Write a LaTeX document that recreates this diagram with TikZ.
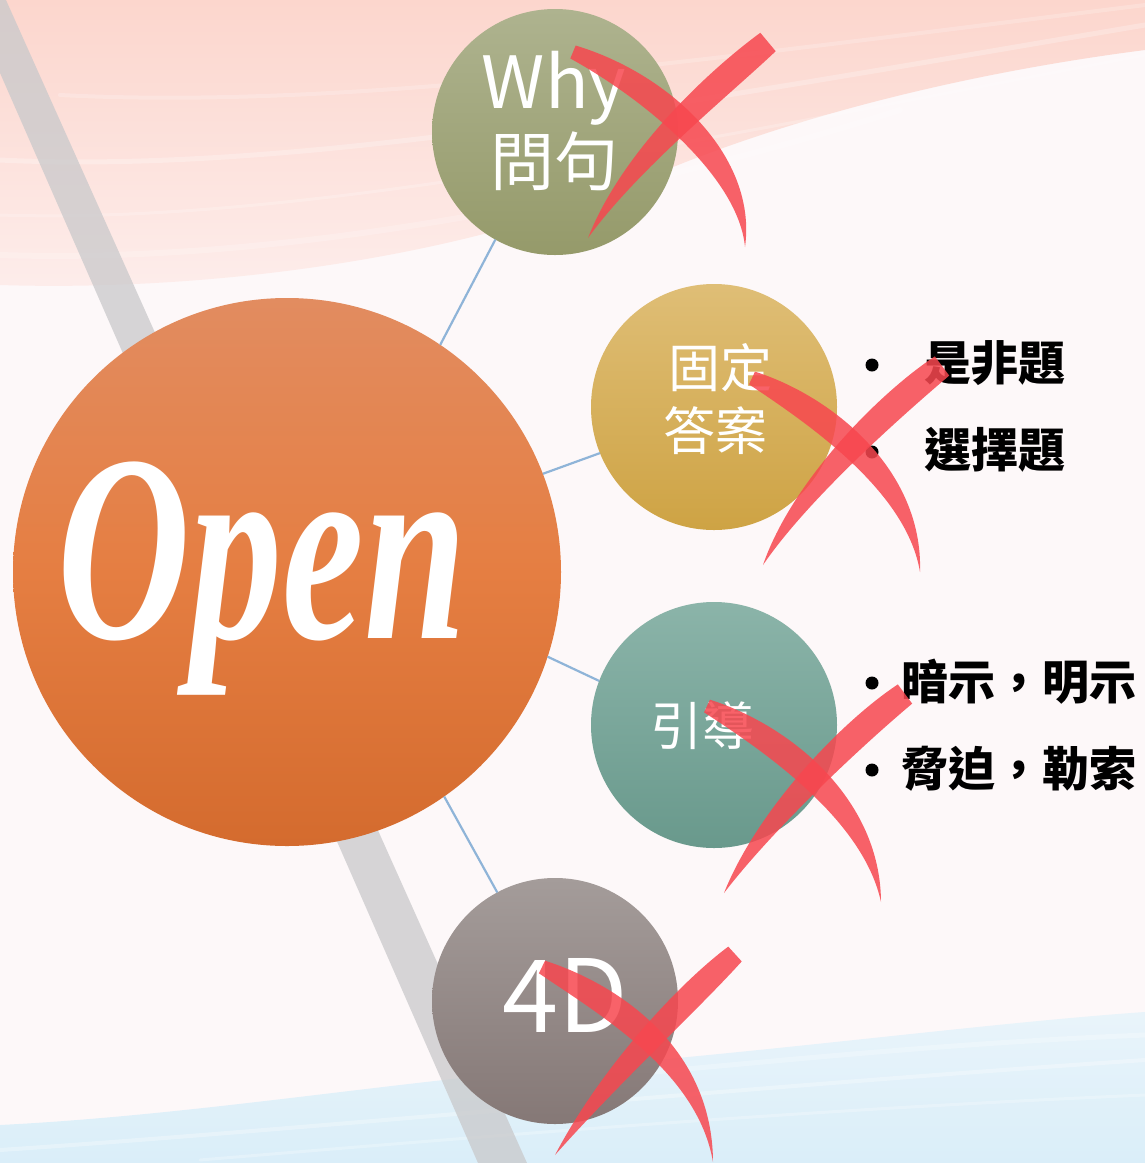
\documentclass[tikz,border=0pt]{standalone}
\usepackage{fontspec}
\usepackage{graphicx}
\usetikzlibrary{calc}
\newfontfamily\cjk{Noto Sans CJK TC}
\newfontfamily\openfont{Liberation Serif}
\definecolor{bgc}{HTML}{FDF8F9}
\definecolor{pinkT}{HTML}{FCD6CD}
\definecolor{pinkB}{HTML}{FDEDEB}
\definecolor{blueT}{HTML}{E9F4FA}
\definecolor{blueB}{HTML}{DAEEF9}
\definecolor{bandc}{HTML}{C9C9CB}
\definecolor{linkblue}{HTML}{8FB4D8}
\definecolor{bigT}{HTML}{E28C60}
\definecolor{bigM}{HTML}{E57E42}
\definecolor{bigB}{HTML}{D46B2E}
\definecolor{whyT}{HTML}{AEB38F}
\definecolor{whyB}{HTML}{959A6A}
\definecolor{fixT}{HTML}{DFBE76}
\definecolor{fixB}{HTML}{CEA344}
\definecolor{gdT}{HTML}{8BB4A9}
\definecolor{gdB}{HTML}{69998C}
\definecolor{fdT}{HTML}{A49C9A}
\definecolor{fdB}{HTML}{857876}
\definecolor{xredc}{HTML}{F7474F}
\tikzset{
  bubble/.style={circle, inner sep=0pt, outer sep=0pt, minimum size=246pt},
  link/.style={draw=linkblue, line width=2.2pt},
  wtext/.style={text=white, inner sep=0pt, anchor=base},
  btext/.style={text=black, inner sep=0pt, anchor=base west, font=\cjk\bfseries\fontsize{47}{56}\selectfont},
  dotmark/.style={circle, fill=black, inner sep=0pt, minimum size=13pt},
  xfill/.style={fill=xredc, fill opacity=0.85},
  streak/.style={draw=white, line cap=round},
}
\newcommand\brush[7]{%
  \fill[xfill] ($#1!#7!90:#2$) .. controls ($#2!#5!90:#3$) and ($#3!#6!-90:#2$) .. #4
     .. controls ($#3!#6!90:#2$) and ($#2!#5!-90:#3$) .. ($#1!#7!-90:#2$) -- cycle;}
\begin{document}
\begin{tikzpicture}[x=1pt, y=-1pt]
\useasboundingbox (0,0) rectangle (1145,1163);
\fill[bgc] (0,0) rectangle (1145,1163);
% pink wave
\shade[top color=pinkT, bottom color=pinkB] (0,0) -- (1145,0) -- (1145,50)
  .. controls (950,75) and (760,125) .. (620,190)
  .. controls (460,255) and (220,292) .. (0,285) -- cycle;
\draw[streak, opacity=0.25, line width=5pt] (0,160) .. controls (300,175) and (700,100) .. (1145,25);
\draw[streak, opacity=0.2, line width=3pt] (0,215) .. controls (300,225) and (700,140) .. (1145,55);
\draw[streak, opacity=0.2, line width=4pt] (60,95) .. controls (350,110) and (700,60) .. (1145,5);
\draw[streak, opacity=0.2, line width=6pt] (0,255) .. controls (300,265) and (650,190) .. (900,110);
% blue wave
\shade[top color=blueT, bottom color=blueB] (0,1125)
  .. controls (200,1115) and (400,1080) .. (600,1065)
  .. controls (800,1048) and (1000,1022) .. (1145,1012) -- (1145,1163) -- (0,1163) -- cycle;
\draw[streak, opacity=0.3, line width=4pt] (0,1150) .. controls (300,1130) and (700,1090) .. (1145,1060);
\draw[streak, opacity=0.25, line width=3pt] (200,1160) .. controls (500,1135) and (800,1110) .. (1145,1095);
\draw[streak, opacity=0.25, line width=5pt] (500,1085) .. controls (700,1070) and (900,1045) .. (1145,1035);
% gray band
\fill[bandc, fill opacity=0.75] (-32,0) -- (6,0) -- (527,1163) -- (478,1163) -- cycle;
% circles
\node[bubble, minimum size=548pt, top color=bigT, bottom color=bigB, middle color=bigM] (big) at (287,572) {};
\node[bubble, top color=whyT, bottom color=whyB] (why) at (555,132) {};
\node[bubble, top color=fixT, bottom color=fixB] (fixed) at (714,407) {};
\node[bubble, top color=gdT, bottom color=gdB] (guide) at (714,725) {};
\node[bubble, top color=fdT, bottom color=fdB] (fourd) at (555,1001) {};
% connectors
\draw[link] (big.56) -- (why.241);
\draw[link] (big.21) -- (fixed.202);
\draw[link] (big.342) -- (guide.159);
\draw[link] (big.305) -- (fourd.118);
% texts in circles
\node[wtext, font=\openfont\bfseries\itshape\fontsize{184}{190}\selectfont] (opentxt) at (262,638) {\scalebox{1}[1.45]{Open}};
\node[wtext, font=\cjk\fontsize{72}{80}\selectfont] (whyA) at (554,108) {Why};
\node[wtext, font=\cjk\fontsize{64}{70}\selectfont] (whyB) at (554,185) {問句};
\node[wtext, font=\cjk\fontsize{52}{60}\selectfont] (fixA) at (720,387) {固定};
\node[wtext, font=\cjk\fontsize{52}{60}\selectfont] (fixB) at (715,450) {答案};
\node[wtext, font=\cjk\fontsize{52}{60}\selectfont] (guideT) at (702,745) {引導};
\node[wtext, font=\cjk\fontsize{101}{110}\selectfont] (fourT) at (565,1032) {4D};
% lists
\node[dotmark] (d1) at (872,365) {};
\node[btext] (l1) at (924,380) {是非題};
\node[dotmark] (d2) at (872,452) {};
\node[btext] (l2) at (924,467) {選擇題};
\node[dotmark] (d3) at (872,683) {};
\node[btext] (l3) at (901,699) {暗示，明示};
\node[dotmark] (d4) at (872,770) {};
\node[btext] (l4) at (901,786) {脅迫，勒索};
% red crosses
\brush{(573,52)}{(660,88)}{(748,168)}{(745,247)}{18pt}{14pt}{7pt}
\brush{(768,42)}{(720,82)}{(630,160)}{(588,238)}{16pt}{12pt}{12pt}
\brush{(752,378)}{(820,410)}{(915,480)}{(920,572)}{18pt}{14pt}{7pt}
\brush{(942,366)}{(890,405)}{(800,490)}{(763,565)}{16pt}{12pt}{12pt}
\brush{(707,706)}{(780,740)}{(872,810)}{(881,902)}{18pt}{14pt}{7pt}
\brush{(905,694)}{(850,735)}{(765,820)}{(724,893)}{16pt}{12pt}{12pt}
\brush{(542,967)}{(610,1000)}{(705,1060)}{(713,1162)}{18pt}{14pt}{7pt}
\brush{(735,954)}{(690,995)}{(610,1075)}{(555,1155)}{16pt}{12pt}{10pt}
\end{tikzpicture}
\end{document}
